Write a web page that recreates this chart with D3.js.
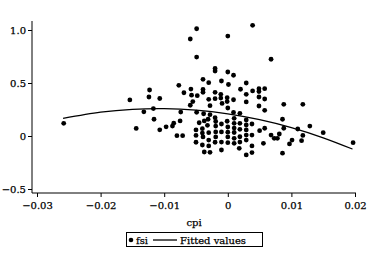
<!DOCTYPE html>
<html>
<head>
<meta charset="utf-8">
<script src="https://cdn.jsdelivr.net/npm/d3@7"></script>
<style>
  body { margin: 0; background: #fff; }
  svg text { font-family: "DejaVu Serif", serif; font-size: 10px; fill: #000; stroke: #000; stroke-width: 0.25px; }
</style>
</head>
<body>
<svg id="chart" width="368" height="259"></svg>
<script>
// scatter values
var cpi = [
  -0.0049, -0.0059, 0.0000, 0.0039, -0.0049, 0.0068, -0.0020, -0.0020, 0.0000, 0.0009,
  -0.0039, -0.0030, -0.0010, 0.0001, -0.0077, 0.0029, -0.0123, -0.0058, -0.0039, -0.0039,
  -0.0069, -0.0020, -0.0011, 0.0020, 0.0039, 0.0049, 0.0049, 0.0058, 0.0029, -0.0124,
  -0.0107, -0.0057, -0.0048, -0.0030, -0.0020, -0.0011, -0.0001, 0.0009, -0.0001, 0.0049,
  0.0058, -0.0154, -0.0055, -0.0059, -0.0028, -0.0009, 0.0000, 0.0029, 0.0049, 0.0058,
  0.0088, 0.0118, -0.0117, -0.0132, -0.0074, -0.0049, -0.0038, -0.0028, -0.0020, 0.0009,
  0.0019, 0.0010, 0.0086, -0.0116, -0.0144, -0.0107, -0.0097, -0.0087, -0.0085, -0.0075,
  -0.0037, -0.0031, -0.0019, -0.0258, -0.0080, -0.0071, -0.0050, -0.0050, -0.0050, -0.0045,
  -0.0040, -0.0040, -0.0040, -0.0037, -0.0028, -0.0032, -0.0030, -0.0030, -0.0019, -0.0020,
  -0.0019, -0.0010, -0.0010, -0.0010, -0.0010, -0.0001, 0.0000, 0.0000, 0.0000, 0.0010,
  0.0010, 0.0010, 0.0010, 0.0010, 0.0018, 0.0019, 0.0019, 0.0019, 0.0029, 0.0029,
  0.0029, 0.0029, 0.0029, 0.0029, 0.0038, 0.0038, 0.0038, 0.0038, 0.0050, 0.0058,
  0.0056, 0.0068, 0.0073, 0.0078, 0.0081, 0.0088, 0.0086, 0.0097, 0.0101, 0.0110,
  0.0118, 0.0116, 0.0129, 0.0150, 0.0197, -0.0039, -0.0019, 0.0000, 0.0019, -0.0030
];
var fsi = [
  1.012, 0.915, 0.943, 1.044, 0.745, 0.724, 0.637, 0.613, 0.604, 0.573,
  0.535, 0.503, 0.519, 0.486, 0.478, 0.500, 0.434, 0.443, 0.439, 0.412,
  0.408, 0.412, 0.393, 0.441, 0.425, 0.446, 0.420, 0.446, 0.393, 0.368,
  0.354, 0.385, 0.380, 0.346, 0.352, 0.358, 0.361, 0.342, 0.325, 0.368,
  0.349, 0.340, 0.325, 0.290, 0.286, 0.307, 0.264, 0.321, 0.283, 0.242,
  0.299, 0.299, 0.259, 0.228, 0.226, 0.224, 0.210, 0.201, 0.173, 0.222,
  0.214, 0.167, 0.158, 0.158, 0.071, 0.058, 0.087, 0.094, 0.121, 0.142,
  0.142, 0.158, 0.137, 0.120, 0.003, 0.003, 0.057, 0.005, -0.059, 0.125,
  0.069, 0.028, -0.085, -0.151, -0.154, 0.101, 0.031, -0.038, 0.038, -0.059,
  0.094, 0.113, 0.038, -0.057, -0.132, 0.139, 0.036, -0.009, -0.063, 0.120,
  0.075, 0.033, -0.022, -0.069, -0.116, 0.120, 0.063, -0.007, 0.151, 0.104,
  0.057, 0.009, -0.038, -0.179, 0.113, 0.009, -0.094, -0.156, 0.050, 0.073,
  -0.069, 0.009, -0.022, -0.022, 0.019, 0.073, -0.162, -0.075, -0.038, 0.066,
  0.005, -0.044, 0.094, 0.031, -0.063, -0.009, -0.009, 0.085, -0.057, -0.094
];

// fitted values
var fitCpi = [-0.0259, -0.020, -0.015, -0.010, -0.005, 0.000, 0.005, 0.010, 0.015, 0.0196];
var fitVal = [0.167, 0.225, 0.252, 0.258, 0.244, 0.209, 0.154, 0.079, -0.017, -0.123];

var xTicks = [-0.03, -0.02, -0.01, 0, 0.01, 0.02];
var yTicks = [-0.5, 0, 0.5, 1];

var svg = d3.select("#chart");

var plot = { left: 32, right: 356, top: 21, bottom: 193 };

var x = d3.scaleLinear().domain([-0.03, 0.02]).range([37, 355]);
var y = d3.scaleLinear().domain([-0.5, 1]).range([189, 30]);

var fmtX = function (d) { return d === 0 ? "0" : d3.format(".2f")(d).replace("-", "\u2212"); };
var fmtY = function (d) { return d === 0 ? "0" : d3.format(".1f")(d).replace("-", "\u2212"); };

// axes
var xAxis = svg.append("g")
  .attr("transform", "translate(0," + plot.bottom + ")")
  .call(d3.axisBottom(x).tickValues(xTicks).tickFormat(fmtX).tickSize(4).tickPadding(5).tickSizeOuter(0));
xAxis.select(".domain").attr("d", "M" + plot.left + ",0H" + plot.right);

var yAxis = svg.append("g")
  .attr("transform", "translate(" + plot.left + ",0)")
  .call(d3.axisLeft(y).tickValues(yTicks).tickFormat(fmtY).tickSize(4).tickPadding(2).tickSizeOuter(0));
yAxis.select(".domain").attr("d", "M0," + plot.top + "V" + plot.bottom);

svg.selectAll(".domain, .tick line").attr("stroke", "#000").attr("stroke-width", 1);
svg.selectAll(".tick text").style("font-family", "DejaVu Serif").style("font-size", "10px");

svg.append("text")
  .attr("x", (plot.left + plot.right) / 2)
  .attr("y", 226)
  .attr("text-anchor", "middle")
  .text("cpi");

// points
var pts = d3.range(cpi.length).map(function (i) { return { c: cpi[i], f: fsi[i] }; });
svg.append("g").selectAll("circle")
  .data(pts)
  .enter().append("circle")
  .attr("cx", function (d) { return x(d.c); })
  .attr("cy", function (d) { return y(d.f); })
  .attr("r", 2.4)
  .attr("fill", "#000");

// fitted line
var fit = d3.range(fitCpi.length).map(function (i) { return { c: fitCpi[i], f: fitVal[i] }; });
var line = d3.line()
  .x(function (d) { return x(d.c); })
  .y(function (d) { return y(d.f); })
  .curve(d3.curveNatural);
svg.append("path")
  .datum(fit)
  .attr("d", line)
  .attr("fill", "none")
  .attr("stroke", "#000")
  .attr("stroke-width", 1.3);

// legend
var lg = svg.append("g");
lg.append("rect")
  .attr("x", 126.5).attr("y", 232.5)
  .attr("width", 136).attr("height", 14)
  .attr("fill", "#fff").attr("stroke", "#000").attr("stroke-width", 1);
lg.append("circle").attr("cx", 131).attr("cy", 240).attr("r", 2.3).attr("fill", "#000");
lg.append("text").attr("x", 136).attr("y", 243.5).text("fsi");
lg.append("line")
  .attr("x1", 153).attr("x2", 177).attr("y1", 240).attr("y2", 240)
  .attr("stroke", "#000").attr("stroke-width", 1.3);
lg.append("text").attr("x", 180).attr("y", 243.5).text("Fitted values");
</script>
</body>
</html>
